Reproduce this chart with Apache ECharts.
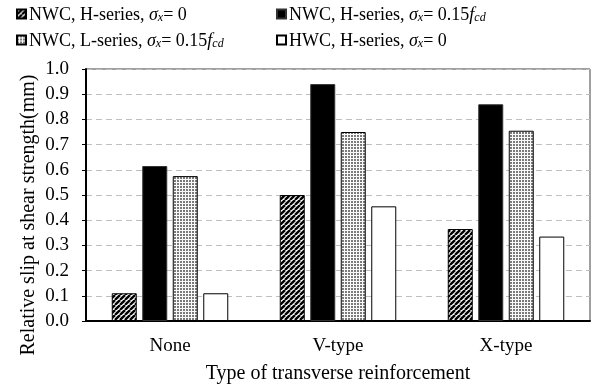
<!DOCTYPE html>
<html>
<head>
<meta charset="utf-8">
<script src="https://cdn.jsdelivr.net/npm/echarts@6/dist/echarts.min.js"></script>
<style>
  html, body { margin: 0; padding: 0; background: #fff; }
  #chart { width: 595px; height: 389px; }
</style>
</head>
<body>
<div id="chart"></div>
<script>
// Reinforcement types on the x axis
const categories = ['None', 'V-type', 'X-type'];

// Relative slip at shear strength (mm) for each test group
const nwcH0 = [0.11, 0.50, 0.365];
const nwcH015 = [0.615, 0.94, 0.86];
const nwcL015 = [0.575, 0.75, 0.755];
const hwcH0 = [0.11, 0.455, 0.335];

const yTicks = [0, 0.1, 0.2, 0.3, 0.4, 0.5, 0.6, 0.7, 0.8, 0.9, 1.0];

const seriesNames = [
  'NWC, H-series, σx= 0',
  'NWC, H-series, σx= 0.15fcd',
  'NWC, L-series, σx= 0.15fcd',
  'HWC, H-series, σx= 0'
];

const yTitle = 'Relative slip at shear strength(mm)';
const xTitle = 'Type of transverse reinforcement';

// Rich-text versions of the legend labels (italic sigma / f, subscripts)
const richLabels = {};
richLabels[seriesNames[0]] = '{r|NWC, H-series, }{i|σ}{sub|x}{r|= 0}';
richLabels[seriesNames[1]] = '{r|NWC, H-series, }{i|σ}{sub|x}{r|= 0.15}{i|f}{sub|cd}';
richLabels[seriesNames[2]] = '{r|NWC, L-series, }{i|σ}{sub|x}{r|= 0.15}{i|f}{sub|cd}';
richLabels[seriesNames[3]] = '{r|HWC, H-series, }{i|σ}{sub|x}{r|= 0}';

// Fill patterns
function hatchPattern() {
  const s = 5;
  const c = document.createElement('canvas');
  c.width = s; c.height = s;
  const g = c.getContext('2d');
  g.fillStyle = '#fff';
  g.fillRect(0, 0, s, s);
  g.strokeStyle = '#000';
  g.lineWidth = 2.4;
  for (let x = -s; x <= s; x += s) {
    g.beginPath();
    g.moveTo(x, s);
    g.lineTo(x + s, 0);
    g.stroke();
  }
  return c;
}
function dotPattern() {
  const s = 3;
  const c = document.createElement('canvas');
  c.width = s; c.height = s;
  const g = c.getContext('2d');
  g.fillStyle = '#fafafa';
  g.fillRect(0, 0, s, s);
  g.fillStyle = '#7a7a7a';
  g.fillRect(0, 0, 2, 2);
  return c;
}

const FONT = '"Liberation Serif", "Times New Roman", serif';

const rich = {
  r: { fontFamily: FONT, fontSize: 18, color: '#000', lineHeight: 20, verticalAlign: 'bottom' },
  i: { fontFamily: FONT, fontSize: 18, color: '#000', fontStyle: 'italic', lineHeight: 20, verticalAlign: 'bottom' },
  sub: { fontFamily: FONT, fontSize: 12, color: '#000', fontStyle: 'italic', lineHeight: 10, verticalAlign: 'bottom' }
};

function legendAt(name, left, top) {
  return {
    data: [name],
    left: left,
    top: top,
    padding: 0,
    itemWidth: 9,
    itemHeight: 9,
    itemGap: 0,
    icon: 'rect',
    selectedMode: false,
    formatter: n => richLabels[n],
    textStyle: { fontFamily: FONT, fontSize: 18, color: '#000', padding: [0, 0, 0, -2], rich: rich }
  };
}

const barCommon = {
  type: 'bar',
  barWidth: 25,
  barGap: '22%',
  animation: false
};

const chart = echarts.init(document.getElementById('chart'), null, { renderer: 'canvas' });
chart.setOption({
  backgroundColor: '#fff',
  animation: false,
  legend: [
    legendAt(seriesNames[0], 16, 6),
    legendAt(seriesNames[1], 276, 6),
    legendAt(seriesNames[2], 16, 32),
    legendAt(seriesNames[3], 276, 32)
  ],
  grid: {
    left: 86, right: 5, top: 69, bottom: 67,
    show: true,
    borderColor: '#404040',
    borderWidth: 1
  },
  // Vertical axis title, centred a little below the plot middle
  graphic: [{
    type: 'text',
    x: 29,
    y: 215,
    rotation: Math.PI / 2,
    style: {
      text: yTitle,
      fontFamily: FONT,
      fontSize: 20,
      fill: '#000',
      align: 'center',
      verticalAlign: 'middle'
    }
  }],
  xAxis: {
    type: 'category',
    data: categories,
    axisLine: { lineStyle: { color: '#000', width: 2 } },
    axisTick: { show: false },
    axisLabel: { fontFamily: FONT, fontSize: 19, color: '#000', margin: 16 },
    name: xTitle,
    nameLocation: 'middle',
    nameGap: 43,
    nameTextStyle: { fontFamily: FONT, fontSize: 20, color: '#000' }
  },
  yAxis: {
    type: 'value',
    min: yTicks[0],
    max: yTicks[yTicks.length - 1],
    interval: 0.1,
    axisLine: { show: true, lineStyle: { color: '#000', width: 2 } },
    axisTick: { show: true, inside: false, length: 4, lineStyle: { color: '#000', width: 1 } },
    axisLabel: {
      fontFamily: FONT, fontSize: 19, color: '#000', margin: 17,
      formatter: v => v.toFixed(1)
    },
    splitLine: { show: true, lineStyle: { color: '#bfbfbf', type: [6, 4], width: 1 } }
  },
  series: [
    Object.assign({}, barCommon, {
      name: seriesNames[0], data: nwcH0,
      itemStyle: { color: { image: hatchPattern(), repeat: 'repeat' }, borderColor: '#000', borderWidth: 1 }
    }),
    Object.assign({}, barCommon, {
      name: seriesNames[1], data: nwcH015,
      itemStyle: { color: '#000', borderColor: '#333', borderWidth: 1 }
    }),
    Object.assign({}, barCommon, {
      name: seriesNames[2], data: nwcL015,
      itemStyle: { color: { image: dotPattern(), repeat: 'repeat' }, borderColor: '#000', borderWidth: 1 }
    }),
    Object.assign({}, barCommon, {
      name: seriesNames[3], data: hwcH0,
      itemStyle: { color: '#fff', borderColor: '#000', borderWidth: 1 }
    })
  ]
});
</script>
</body>
</html>
